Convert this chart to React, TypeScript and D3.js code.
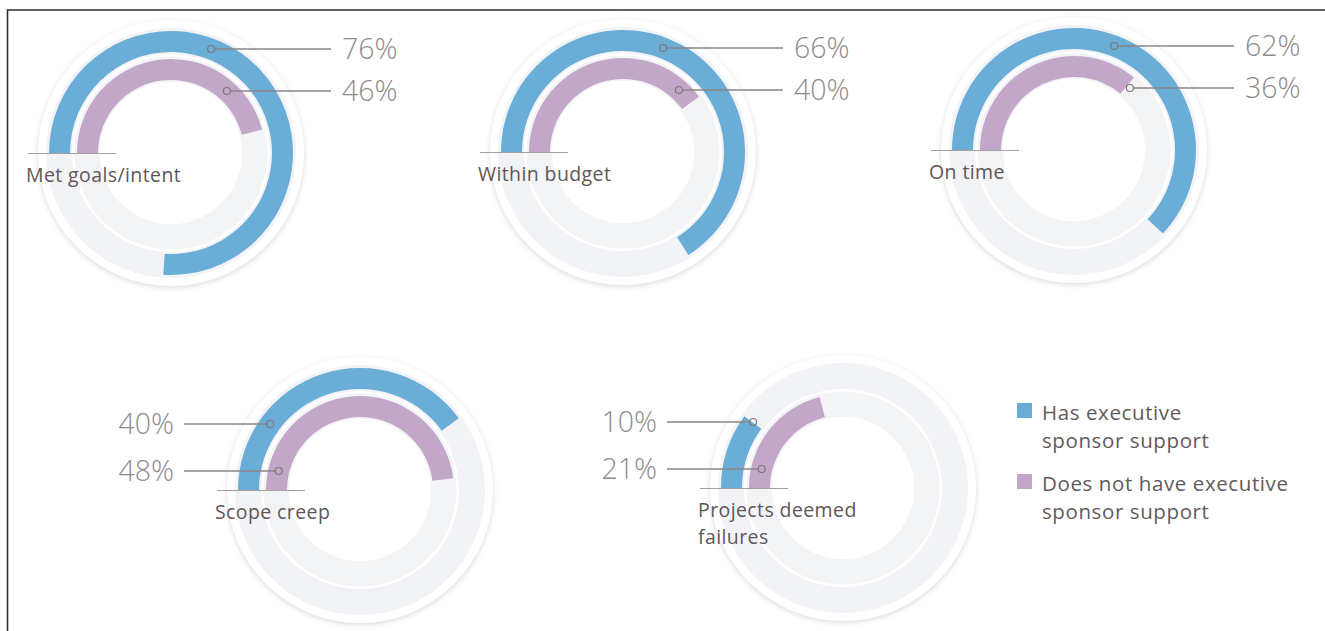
import React from 'react';
import * as d3 from 'd3';

// values (percent of projects)
const categories = [
    ['Met goals/intent'],
    ['Within budget'],
    ['On time'],
    ['Scope creep'],
    ['Projects deemed', 'failures'],
];
const hasSponsor = [76, 66, 62, 40, 10];
const noSponsor = [46, 40, 36, 48, 21];
const seriesLabels = [
    ['Has executive', 'sponsor support'],
    ['Does not have executive', 'sponsor support'],
];

const BLUE = '#6aaed7';
const PURPLE = '#c3a7c9';
const FONT = '"Open Sans", "Noto Sans", sans-serif';

// where each donut sits and on which side its numbers go
const layout = [
    { cx: 171, cy: 153, side: 'right' },
    { cx: 623, cy: 152, side: 'right' },
    { cx: 1074, cy: 150, side: 'right' },
    { cx: 360, cy: 490, side: 'left' },
    { cx: 843, cy: 488, side: 'left' },
];

const W = 1325;
const H = 631;

const R_OUT = 133;
const blueRing = [101, 122];
const purpleRing = [73, 94];

const angle = d3.scaleLinear().domain([0, 100]).range([0, 2 * Math.PI]);
const START = -Math.PI / 2;

const arcGen = d3.arc();

const ringPath = (inner, outer, value) =>
    arcGen({
        innerRadius: inner,
        outerRadius: outer,
        startAngle: START,
        endAngle: START + angle(value),
    });

const trackPath = (inner, outer) =>
    arcGen({ innerRadius: inner, outerRadius: outer, startAngle: 0, endAngle: 2 * Math.PI });

const Donut = ({ i }) => {
    const { cx, cy, side } = layout[i];
    const rows = [
        { v: hasSponsor[i], ring: blueRing, dy: side === 'right' ? -104 : -66 },
        { v: noSponsor[i], ring: purpleRing, dy: side === 'right' ? -62 : -19 },
    ];
    return (
        <g transform={`translate(${cx},${cy})`}>
            <circle r={R_OUT} fill="#ffffff" filter="url(#shadow)" />
            <path d={trackPath(99, 125)} fill="#f2f3f6" />
            <path d={trackPath(71, 96.5)} fill="#f3f4f6" />
            <circle r={71} fill="#ffffff" />
            <path d={ringPath(blueRing[0], blueRing[1], hasSponsor[i])} fill={BLUE} />
            <path d={ringPath(purpleRing[0], purpleRing[1], noSponsor[i])} fill={PURPLE} />

            {/* category label with its rule */}
            <line x1={-143} x2={-55} y1={0.5} y2={0.5} stroke="#a7a0a1" strokeWidth={1} />
            {categories[i].map((t, k) => (
                <text
                    key={k}
                    x={-145}
                    y={29 + k * 27}
                    fontSize={19.5}
                    letterSpacing={0.4}
                    fill="#5f5658"
                    fontFamily={FONT}
                >
                    {t}
                </text>
            ))}

            {rows.map((r, k) => {
                const rm = (r.ring[0] + r.ring[1]) / 2;
                const off = Math.sqrt(rm * rm - r.dy * r.dy);
                const dotX = side === 'right' ? off : -off;
                const lineEnd = side === 'right' ? 160 : -176;
                const textX = side === 'right' ? 171 : -186;
                return (
                    <g key={k}>
                        <line
                            x1={dotX + (side === 'right' ? 3.5 : -3.5)}
                            x2={lineEnd}
                            y1={r.dy}
                            y2={r.dy}
                            stroke="#8c8586"
                            strokeWidth={1.3}
                        />
                        <circle cx={dotX} cy={r.dy} r={3.5} fill="none" stroke="#7e7779" strokeWidth={1.2} />
                        <text
                            x={textX}
                            y={r.dy}
                            dy="0.36em"
                            textAnchor={side === 'right' ? 'start' : 'end'}
                            fontSize={28.5}
                            fontWeight={300}
                            fill="#908a8b"
                            fontFamily={FONT}
                        >
                            {r.v}%
                        </text>
                    </g>
                );
            })}
        </g>
    );
};

const App = () => {
    const legendColors = [BLUE, PURPLE];
    return (
        <div style={{ width: W, height: H, overflow: 'hidden' }}>
            <style>{`body{margin:0;background:#fff}`}</style>
            <svg width={W} height={H} style={{ display: 'block' }}>
                <defs>
                    <filter id="shadow" x="-20%" y="-20%" width="140%" height="140%">
                        <feDropShadow dx={0} dy={1.5} stdDeviation={2.5} floodColor="#9a9090" floodOpacity={0.35} />
                    </filter>
                </defs>
                <rect width={W} height={H} fill="#ffffff" />
                {/* frame: top and left edge */}
                <path d={`M7.5,${H} V10 H${W}`} fill="none" stroke="#2e2e2e" strokeWidth={1.6} />

                {layout.map((_, i) => (
                    <Donut key={i} i={i} />
                ))}

                {seriesLabels.map((lines, k) => (
                    <g key={k} transform={`translate(1017,${403 + k * 71})`}>
                        <rect width={15} height={15} fill={legendColors[k]} />
                        {lines.map((t, j) => (
                            <text
                                key={j}
                                x={25}
                                y={17 + j * 28}
                                fontSize={20.5}
                                letterSpacing={0.6}
                                fill="#625a5c"
                                fontFamily={FONT}
                            >
                                {t}
                            </text>
                        ))}
                    </g>
                ))}
            </svg>
        </div>
    );
};

export default App;
